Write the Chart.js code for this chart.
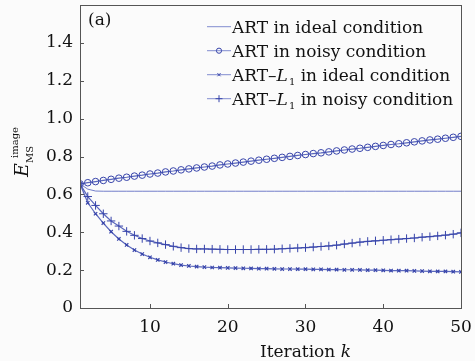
<!DOCTYPE html>
<html>
<head>
<meta charset="utf-8">
<script src="https://cdn.jsdelivr.net/npm/chart.js@4/dist/chart.umd.min.js"></script>
<style>
  body { margin: 0; background: #fbfbfb; }
  #wrap { width: 475px; height: 361px; }
</style>
</head>
<body>
<div id="wrap"><canvas id="chart" width="475" height="361"></canvas></div>
<script>
// iteration k
const iterations = [1,2,3,4,5,6,7,8,9,10,11,12,13,14,15,16,17,18,19,20,21,22,23,24,25,
  26,27,28,29,30,31,32,33,34,35,36,37,38,39,40,41,42,43,44,45,46,47,48,49,50];

const artIdeal = [0.656,0.628,0.618,0.617,0.617,0.617,0.617,0.617,0.617,0.617,
  0.617,0.617,0.617,0.617,0.617,0.617,0.617,0.617,0.617,0.617,
  0.617,0.617,0.617,0.617,0.617,0.617,0.617,0.617,0.617,0.617,
  0.617,0.617,0.617,0.617,0.617,0.617,0.617,0.617,0.617,0.617,
  0.617,0.617,0.617,0.617,0.617,0.617,0.617,0.617,0.617,0.617];

const artNoisy = [0.656,0.662,0.668,0.674,0.680,0.686,0.691,0.697,0.702,0.708,
  0.713,0.719,0.724,0.730,0.735,0.740,0.745,0.750,0.756,0.761,
  0.766,0.771,0.776,0.781,0.786,0.791,0.796,0.801,0.806,0.811,
  0.816,0.820,0.825,0.830,0.835,0.840,0.844,0.849,0.854,0.859,
  0.864,0.868,0.873,0.878,0.883,0.888,0.892,0.897,0.902,0.907];

const artL1Ideal = [0.656,0.556,0.498,0.449,0.403,0.365,0.333,0.306,0.285,0.268,
  0.254,0.243,0.234,0.227,0.222,0.219,0.216,0.214,0.213,0.212,
  0.211,0.210,0.209,0.208,0.208,0.207,0.206,0.206,0.205,0.205,
  0.204,0.204,0.203,0.203,0.202,0.202,0.201,0.200,0.200,0.199,
  0.198,0.197,0.197,0.196,0.195,0.194,0.193,0.193,0.192,0.191];

const artL1Noisy = [0.656,0.589,0.542,0.498,0.460,0.433,0.405,0.384,0.367,0.354,
  0.344,0.335,0.326,0.319,0.314,0.312,0.312,0.311,0.310,0.309,
  0.309,0.309,0.309,0.310,0.310,0.311,0.313,0.315,0.317,0.319,
  0.322,0.325,0.328,0.332,0.338,0.343,0.348,0.352,0.355,0.358,
  0.361,0.364,0.367,0.370,0.374,0.377,0.381,0.385,0.390,0.397];

const xTickValues = [10, 20, 30, 40, 50];
const yTickValues = [0, 0.2, 0.4, 0.6, 0.8, 1.0, 1.2, 1.4];

const legendLabels = [
  [{t: 'ART in ideal condition'}],
  [{t: 'ART in noisy condition'}],
  [{t: 'ART\u2013'}, {t: 'L', it: true}, {t: '1', sub: true}, {t: ' in ideal condition'}],
  [{t: 'ART\u2013'}, {t: 'L', it: true}, {t: '1', sub: true}, {t: ' in noisy condition'}]
];

const SERIF = '"DejaVu Serif", "Liberation Serif", serif';
const lineColor = 'rgba(62, 78, 178, 0.85)';
const markColor = 'rgb(55, 68, 170)';

function pts(vals) {
  return iterations.map((k, i) => ({x: k, y: vals[i]}));
}

function richText(ctx, parts, x, y, size) {
  let cx = x;
  parts.forEach(p => {
    const fs = p.sub ? Math.round(size * 0.6) : size;
    ctx.font = (p.it ? 'italic ' : '') + fs + 'px ' + SERIF;
    ctx.fillText(p.t, cx, p.sub ? y + 4 : y);
    cx += ctx.measureText(p.t).width + (p.it ? 1 : 0);
  });
}

function noPad(s) {
  s.paddingTop = 0; s.paddingBottom = 0; s.paddingLeft = 0; s.paddingRight = 0;
}

const frame = {
  id: 'frame',
  afterDraw(chart) {
    const {ctx, chartArea: a, scales} = chart;
    ctx.save();
    ctx.strokeStyle = '#555';
    ctx.lineWidth = 1;
    ctx.strokeRect(Math.round(a.left) + 0.5, Math.round(a.top) + 0.5,
      Math.round(a.right - a.left), Math.round(a.bottom - a.top));
    ctx.beginPath();
    yTickValues.forEach(v => {
      const py = Math.round(scales.y.getPixelForValue(v)) + 0.5;
      ctx.moveTo(a.left, py); ctx.lineTo(a.left + 4, py);
    });
    xTickValues.forEach(v => {
      const px = Math.round(scales.x.getPixelForValue(v)) + 0.5;
      ctx.moveTo(px, a.bottom); ctx.lineTo(px, a.bottom - 4);
    });
    ctx.stroke();

    ctx.fillStyle = '#111';
    ctx.textBaseline = 'alphabetic';
    // panel tag
    ctx.font = '17px ' + SERIF;
    ctx.fillText('(a)', a.left + 8, a.top + 20);

    // legend
    const styles = [false, 'circle', 'crossRot', 'cross'];
    const radii = [0, 2.6, 2.2, 3.5];
    legendLabels.forEach((parts, i) => {
      const ly = a.top + 21 + i * 24;
      const x0 = a.right - 254, x1 = a.right - 230;
      ctx.strokeStyle = 'rgba(80, 95, 190, 0.7)';
      ctx.lineWidth = 1;
      ctx.beginPath(); ctx.moveTo(x0, ly + 0.5); ctx.lineTo(x1, ly + 0.5); ctx.stroke();
      if (styles[i]) {
        ctx.strokeStyle = markColor;
        ctx.fillStyle = 'rgba(0,0,0,0)';
        Chart.helpers.drawPoint(ctx, {pointStyle: styles[i], radius: radii[i], rotation: 0, borderWidth: 1}, (x0 + x1) / 2, ly + 0.5);
      }
      ctx.fillStyle = '#111';
      richText(ctx, parts, a.right - 229, ly + 7, 17);
    });

    // x title
    ctx.font = '17px ' + SERIF;
    const t1 = 'Iteration ';
    const w1 = ctx.measureText(t1).width;
    ctx.font = 'italic 17px ' + SERIF;
    const w2 = ctx.measureText('k').width;
    let tx = (a.left + a.right) / 2 + 35 - (w1 + w2) / 2;
    ctx.font = '17px ' + SERIF;
    ctx.fillText(t1, tx, a.bottom + 49);
    ctx.font = 'italic 17px ' + SERIF;
    ctx.fillText('k', tx + w1, a.bottom + 49);

    // y title: E^image_MS
    ctx.translate(28, 177);
    ctx.rotate(-Math.PI / 2);
    ctx.font = 'italic 19px ' + SERIF;
    ctx.fillText('E', 0, 0);
    ctx.font = '10px ' + SERIF;
    ctx.fillText('image', 19, -10);
    ctx.fillText('MS', 14, 5);
    ctx.restore();
  }
};

new Chart(document.getElementById('chart'), {
  type: 'line',
  data: {
    datasets: [
      {label: 'ART in ideal condition', data: pts(artIdeal), borderColor: 'rgba(80, 95, 190, 0.8)',
        borderWidth: 1, pointRadius: 0},
      {label: 'ART in noisy condition', data: pts(artNoisy), borderColor: lineColor, borderWidth: 1.2,
        pointStyle: 'circle', pointRadius: 3.3, pointBorderWidth: 1,
        pointBorderColor: markColor, pointBackgroundColor: 'rgba(0,0,0,0)'},
      {label: 'ART-L1 in ideal condition', data: pts(artL1Ideal), borderColor: lineColor, borderWidth: 1.2,
        pointStyle: 'crossRot', pointRadius: 2.4, pointBorderWidth: 1.2,
        pointBorderColor: markColor},
      {label: 'ART-L1 in noisy condition', data: pts(artL1Noisy), borderColor: lineColor, borderWidth: 1.2,
        pointStyle: 'cross', pointRadius: 4.2, pointBorderWidth: 1,
        pointBorderColor: markColor}
    ]
  },
  options: {
    responsive: false,
    animation: false,
    layout: {padding: {top: 5, right: 14, left: 0, bottom: 0}},
    plugins: {legend: {display: false}, tooltip: {enabled: false}},
    scales: {
      x: {
        type: 'linear', min: 1, max: 50,
        afterBuildTicks: s => { s.ticks = xTickValues.map(v => ({value: v})); },
        afterFit: s => { s.height = 53; noPad(s); },
        grid: {display: false, drawTicks: false},
        border: {display: false},
        ticks: {color: '#111', font: {family: SERIF, size: 17}, padding: 9, maxRotation: 0,
          callback: v => String(v)}
      },
      y: {
        min: 0, max: 1.6,
        afterBuildTicks: s => { s.ticks = yTickValues.map(v => ({value: v})); },
        afterFit: s => { s.width = 80; noPad(s); },
        grid: {display: false, drawTicks: false},
        border: {display: false},
        ticks: {color: '#111', font: {family: SERIF, size: 17}, padding: 7,
          callback: v => Math.abs(v) < 1e-9 ? '0' : v.toFixed(1)}
      }
    }
  },
  plugins: [frame]
});
</script>
</body>
</html>
